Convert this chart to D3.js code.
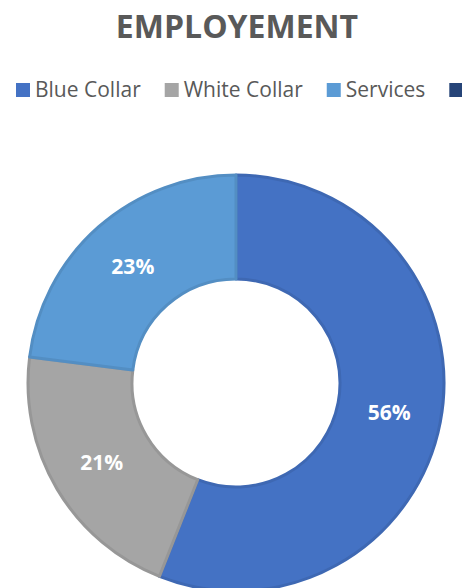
<!DOCTYPE html>
<html>
<head>
<meta charset="utf-8">
<script src="https://cdn.jsdelivr.net/npm/d3@7"></script>
<style>
  html, body { margin: 0; padding: 0; background: #fff; overflow: hidden; }
  svg { display: block; }
</style>
</head>
<body>
<svg id="chart" width="462" height="588"></svg>
<script>
const title = "EMPLOYEMENT";
const categories = ["Blue Collar", "White Collar", "Services", "Others"];
const values = [56, 21, 23, 0];
const colors = ["#4472C4", "#A5A5A5", "#5B9BD5", "#264478"];

const svg = d3.select("#chart");
const W = 462, H = 588;
const cx = 236, cy = 383, rOuter = 208, rInner = 104;

svg.append("text")
  .attr("x", 237).attr("y", 38)
  .attr("text-anchor", "middle")
  .attr("font-family", "'Open Sans', sans-serif")
  .attr("font-weight", "bold")
  .attr("font-size", 32)
  .attr("fill", "#595959")
  .text(title);

// legend (the last entry's text lies beyond the right edge, as in the reference)
const legend = svg.append("g");
let lx = 16;
categories.forEach((c, i) => {
  legend.append("rect")
    .attr("x", lx).attr("y", 83).attr("width", 14).attr("height", 14)
    .attr("fill", colors[i]);
  if (lx + 19 < W - 20) {
    const t = legend.append("text")
      .attr("x", lx + 19).attr("y", 97)
      .attr("font-family", "'Open Sans', sans-serif")
      .attr("font-size", 21)
      .attr("fill", "#595959")
      .text(c);
    lx += 19 + t.node().getComputedTextLength() + 24;
  }
});

const color = d3.scaleOrdinal().domain(categories).range(colors);
const data = categories.map((c, i) => ({ name: c, value: values[i] }));
const pie = d3.pie().value(d => d.value).sort(null);
const arc = d3.arc().innerRadius(rInner).outerRadius(rOuter);
const arcs = pie(data);

const g = svg.append("g").attr("transform", `translate(${cx},${cy})`);
g.selectAll("path.slice")
  .data(arcs.filter(d => d.data.value > 0))
  .join("path")
  .attr("class", "slice")
  .attr("d", arc)
  .attr("fill", d => color(d.data.name))
  .attr("stroke", d => d3.color(color(d.data.name)).darker(0.25))
  .attr("stroke-width", 3)
  .attr("stroke-linejoin", "round");

g.selectAll("text.lbl")
  .data(arcs.filter(d => d.data.value > 0))
  .join("text")
  .attr("class", "lbl")
  .attr("transform", d => `translate(${arc.centroid(d)})`)
  .attr("text-anchor", "middle")
  .attr("dy", "0.36em")
  .attr("font-family", "'Open Sans', sans-serif")
  .attr("font-weight", "bold")
  .attr("font-size", 21)
  .attr("fill", "#ffffff")
  .text(d => d.data.value + "%");
</script>
</body>
</html>
